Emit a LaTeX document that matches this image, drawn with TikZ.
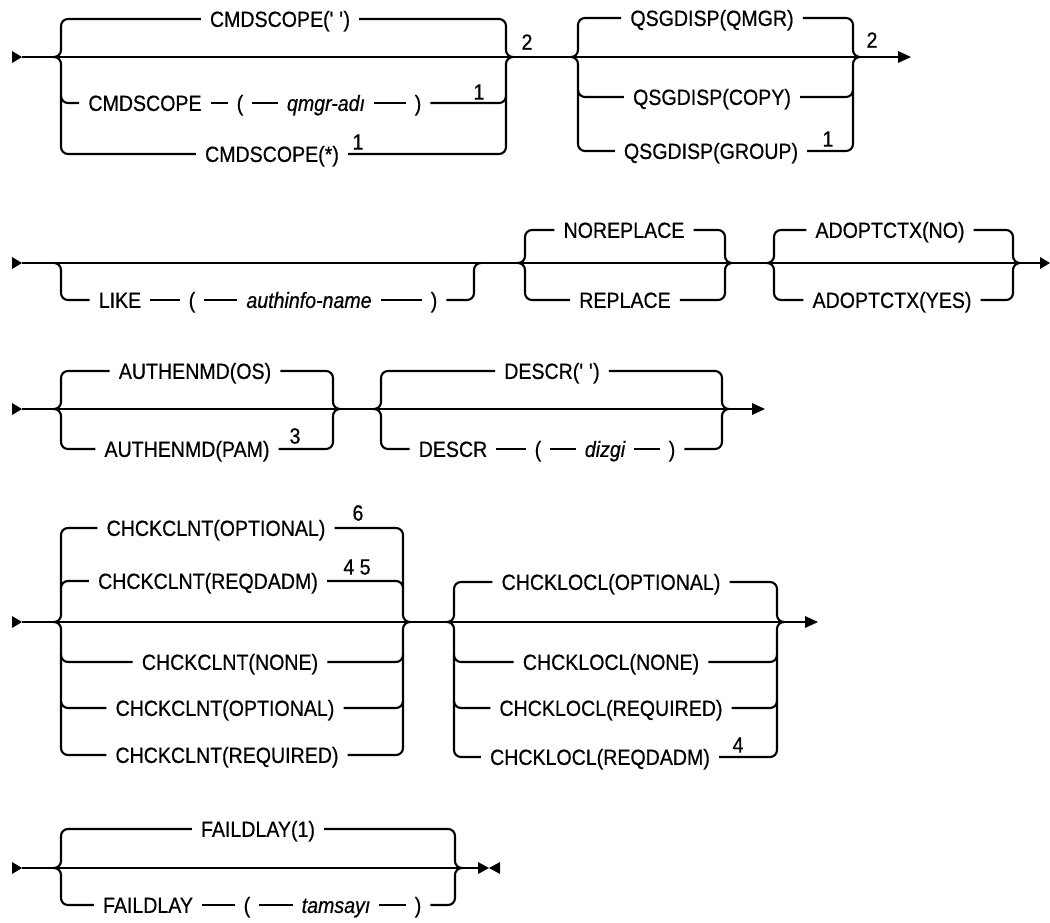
\documentclass[tikz,border=0pt]{standalone}
\usepackage{fontspec}
\setmainfont{Liberation Sans}[FakeStretch=0.89,FakeBold=0.6]
\newcommand{\rrfont}{\fontsize{22}{24}\selectfont}
\tikzset{
  ln/.style={line width=2.1pt, rounded corners=7pt},
  t/.style={inner xsep=9pt, inner ysep=0pt, text height=17.8pt, text depth=2pt, font=\rrfont},
  v/.style={t, font=\rrfont\itshape},
  fn/.style={inner sep=0pt, font=\rrfont},
  tip/.style={fill=black},
}
\begin{document}
\begin{tikzpicture}[x=1pt,y=-1pt]
\useasboundingbox (0,0) rectangle (1050,922);
% ---------------- Row 1 ----------------
\coordinate (s1) at (22,57);
\coordinate (g1L) at (54,57);
\coordinate (g1R) at (513,57);
\coordinate (g2L) at (571,57);
\coordinate (g2R) at (860,57);
\coordinate (e1) at (898,57);
\fill[tip] (12,51) -- (s1) -- (12,63) -- cycle;
\draw[ln] (s1) -- (e1);
\fill[tip] (898,51) -- (911,57) -- (898,63) -- cycle;
\node[t] (a1) at (280,19) {CMDSCOPE(\textquotesingle\ \textquotesingle)};
\node[t] (a2) at (145,103) {CMDSCOPE};
\node[t] (a3) at (240,103) {(};
\node[v] (a4) at (326,103) {qmgr-adı};
\node[t] (a5) at (418,103) {)};
\node[fn] (f1) at (479,92) {1};
\node[t] (a6) at (272,154) {CMDSCOPE(*)};
\node[fn] (f2) at (358,142) {1};
\node[fn] (f3) at (527,42) {2};
\draw[ln] (g1L) -- ++(7,0) |- (a1.west);
\draw[ln] (a1.east) -| ([xshift=-7pt]g1R) -- (g1R);
\draw[ln] (g1L) -- ++(7,0) |- (a6.west);
\draw[ln] (a6.east) -| ([xshift=-7pt]g1R) -- (g1R);
\draw[ln] (61,96) |- (a2.west);
\draw[ln] (a2.east) -- (a3.west);
\draw[ln] (a3.east) -- (a4.west);
\draw[ln] (a4.east) -- (a5.west);
\draw[ln] (a5.east) -| (506,96);
\node[t] (b1) at (712,18) {QSGDISP(QMGR)};
\node[t] (b2) at (712,97) {QSGDISP(COPY)};
\node[t] (b3) at (711,151) {QSGDISP(GROUP)};
\node[fn] (f4) at (828,139) {1};
\node[fn] (f5) at (872,40) {2};
\draw[ln] (g2L) -- ++(7,0) |- (b1.west);
\draw[ln] (b1.east) -| ([xshift=-7pt]g2R) -- (g2R);
\draw[ln] (g2L) -- ++(7,0) |- (b3.west);
\draw[ln] (b3.east) -| ([xshift=-7pt]g2R) -- (g2R);
\draw[ln] (578,90) |- (b2.west);
\draw[ln] (b2.east) -| (853,90);
% ---------------- Row 2 ----------------
\coordinate (s2) at (22,263);
\coordinate (g3L) at (54,263);
\coordinate (g3R) at (481,263);
\coordinate (g4L) at (518,263);
\coordinate (g4R) at (732,263);
\coordinate (g5L) at (767,263);
\coordinate (g5R) at (1020,263);
\coordinate (e2) at (1040,263);
\fill[tip] (12,257) -- (s2) -- (12,269) -- cycle;
\draw[ln] (s2) -- (e2);
\fill[tip] (1040,257) -- (1050,263) -- (1040,269) -- cycle;
\node[t] (c1) at (120,300) {LIKE};
\node[t] (c2) at (192,300) {(};
\node[v] (c3) at (309,300) {authinfo-name};
\node[t] (c4) at (434,300) {)};
\draw[ln] (g3L) -- ++(7,0) |- (c1.west);
\draw[ln] (c1.east) -- (c2.west);
\draw[ln] (c2.east) -- (c3.west);
\draw[ln] (c3.east) -- (c4.west);
\draw[ln] (c4.east) -| ([xshift=-7pt]g3R) -- (g3R);
\node[t] (d1) at (624,230) {NOREPLACE};
\node[t] (d2) at (625,300) {REPLACE};
\draw[ln] (g4L) -- ++(7,0) |- (d1.west);
\draw[ln] (d1.east) -| ([xshift=-7pt]g4R) -- (g4R);
\draw[ln] (g4L) -- ++(7,0) |- (d2.west);
\draw[ln] (d2.east) -| ([xshift=-7pt]g4R) -- (g4R);
\node[t] (d3) at (890,230) {ADOPTCTX(NO)};
\node[t] (d4) at (892,300) {ADOPTCTX(YES)};
\draw[ln] (g5L) -- ++(7,0) |- (d3.west);
\draw[ln] (d3.east) -| ([xshift=-7pt]g5R) -- (g5R);
\draw[ln] (g5L) -- ++(7,0) |- (d4.west);
\draw[ln] (d4.east) -| ([xshift=-7pt]g5R) -- (g5R);
% ---------------- Row 3 ----------------
\coordinate (s3) at (22,409);
\coordinate (g6L) at (54,409);
\coordinate (g6R) at (340,409);
\coordinate (g7L) at (374,409);
\coordinate (g7R) at (729,409);
\coordinate (e3) at (752,409);
\fill[tip] (12,403) -- (s3) -- (12,415) -- cycle;
\draw[ln] (s3) -- (e3);
\fill[tip] (752,403) -- (765,409) -- (752,415) -- cycle;
\node[t] (h1) at (195,371) {AUTHENMD(OS)};
\node[t] (h2) at (187,449) {AUTHENMD(PAM)};
\node[fn] (f6) at (295,436) {3};
\draw[ln] (g6L) -- ++(7,0) |- (h1.west);
\draw[ln] (h1.east) -| ([xshift=-7pt]g6R) -- (g6R);
\draw[ln] (g6L) -- ++(7,0) |- (h2.west);
\draw[ln] (h2.east) -| ([xshift=-7pt]g6R) -- (g6R);
\node[t] (h3) at (552,371) {DESCR(\textquotesingle\ \textquotesingle)};
\node[t] (h4) at (453,449) {DESCR};
\node[t] (h5) at (538,449) {(};
\node[v] (h6) at (605,449) {dizgi};
\node[t] (h7) at (672,449) {)};
\draw[ln] (g7L) -- ++(7,0) |- (h3.west);
\draw[ln] (h3.east) -| ([xshift=-7pt]g7R) -- (g7R);
\draw[ln] (g7L) -- ++(7,0) |- (h4.west);
\draw[ln] (h4.east) -- (h5.west);
\draw[ln] (h5.east) -- (h6.west);
\draw[ln] (h6.east) -- (h7.west);
\draw[ln] (h7.east) -| ([xshift=-7pt]g7R) -- (g7R);
% ---------------- Row 4 ----------------
\coordinate (s4) at (22,622);
\coordinate (g8L) at (54,622);
\coordinate (g8R) at (410,622);
\coordinate (g9L) at (447,622);
\coordinate (g9R) at (784,622);
\coordinate (e4) at (805,622);
\fill[tip] (12,616) -- (s4) -- (12,628) -- cycle;
\draw[ln] (s4) -- (e4);
\fill[tip] (805,616) -- (818,622) -- (805,628) -- cycle;
\node[t] (k1) at (216,528) {CHCKCLNT(OPTIONAL)};
\node[fn] (f7) at (358,513) {6};
\node[t] (k2) at (208,581) {CHCKCLNT(REQDADM)};
\node[fn] (f8) at (357,567) {4 5};
\node[t] (k3) at (230,662) {CHCKCLNT(NONE)};
\node[t] (k4) at (225,708) {CHCKCLNT(OPTIONAL)};
\node[t] (k5) at (227,755) {CHCKCLNT(REQUIRED)};
\draw[ln] (g8L) -- ++(7,0) |- (k1.west);
\draw[ln] (k1.east) -| ([xshift=-7pt]g8R) -- (g8R);
\draw[ln] (g8L) -- ++(7,0) |- (k5.west);
\draw[ln] (k5.east) -| ([xshift=-7pt]g8R) -- (g8R);
\draw[ln] (61,588) |- (k2.west);
\draw[ln] (k2.east) -| (403,588);
\draw[ln] (61,655) |- (k3.west);
\draw[ln] (k3.east) -| (403,655);
\draw[ln] (61,701) |- (k4.west);
\draw[ln] (k4.east) -| (403,701);
\node[t] (m1) at (611,582) {CHCKLOCL(OPTIONAL)};
\node[t] (m2) at (611,662) {CHCKLOCL(NONE)};
\node[t] (m3) at (611,708) {CHCKLOCL(REQUIRED)};
\node[t] (m4) at (600,757) {CHCKLOCL(REQDADM)};
\node[fn] (f9) at (738,745) {4};
\draw[ln] (g9L) -- ++(7,0) |- (m1.west);
\draw[ln] (m1.east) -| ([xshift=-7pt]g9R) -- (g9R);
\draw[ln] (g9L) -- ++(7,0) |- (m4.west);
\draw[ln] (m4.east) -| ([xshift=-7pt]g9R) -- (g9R);
\draw[ln] (454,655) |- (m2.west);
\draw[ln] (m2.east) -| (777,655);
\draw[ln] (454,701) |- (m3.west);
\draw[ln] (m3.east) -| (777,701);
% ---------------- Row 5 ----------------
\coordinate (s5) at (22,868);
\coordinate (g10L) at (54,868);
\coordinate (g10R) at (462,868);
\coordinate (e5) at (478,868);
\fill[tip] (12,862) -- (s5) -- (12,874) -- cycle;
\draw[ln] (s5) -- (e5);
\fill[tip] (478,862) -- (489,868) -- (478,874) -- cycle;
\fill[tip] (500,862) -- (489,868) -- (500,874) -- cycle;
\node[t] (n1) at (258,829) {FAILDLAY(1)};
\node[t] (n2) at (148,905) {FAILDLAY};
\node[t] (n3) at (247,905) {(};
\node[v] (n4) at (336,905) {tamsayı};
\node[t] (n5) at (418,905) {)};
\draw[ln] (g10L) -- ++(7,0) |- (n1.west);
\draw[ln] (n1.east) -| ([xshift=-7pt]g10R) -- (g10R);
\draw[ln] (g10L) -- ++(7,0) |- (n2.west);
\draw[ln] (n2.east) -- (n3.west);
\draw[ln] (n3.east) -- (n4.west);
\draw[ln] (n4.east) -- (n5.west);
\draw[ln] (n5.east) -| ([xshift=-7pt]g10R) -- (g10R);
\end{tikzpicture}
\end{document}
